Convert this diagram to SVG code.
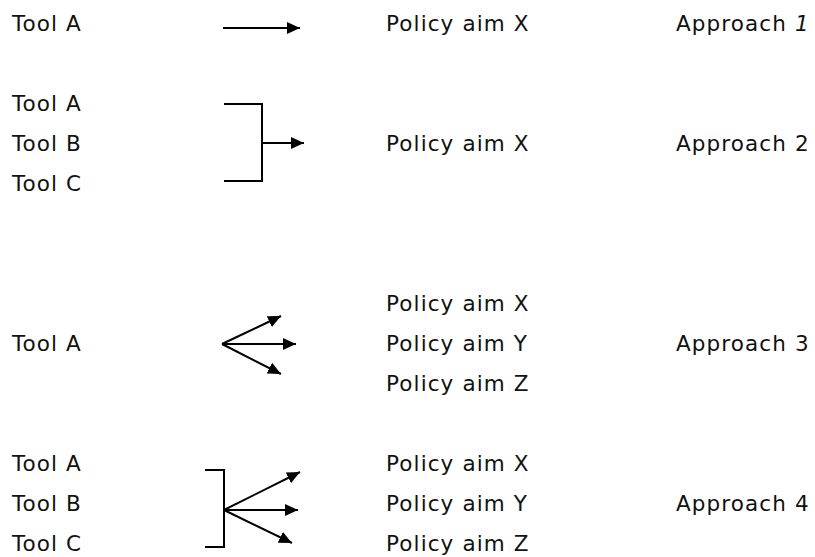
<svg xmlns="http://www.w3.org/2000/svg" width="815" height="557" viewBox="0 0 815 557">
  <defs>
    <marker id="head" viewBox="0 0 13 12" refX="13" refY="6" markerWidth="13" markerHeight="12" markerUnits="userSpaceOnUse" orient="auto">
      <path d="M0,0 L13,6 L0,12 Z" fill="#000"/>
    </marker>
    <style>
      text { font-family: "DejaVu Sans", Verdana, sans-serif; font-size: 21.5px; letter-spacing: 1.1px; fill: #111; }
      .ln { fill: none; stroke: #000; stroke-width: 2; }
      .ar { fill: none; stroke: #000; stroke-width: 2; marker-end: url(#head); }
    </style>
  </defs>
  <rect width="815" height="557" fill="#fff"/>

  <!-- Approach 1: one tool, one aim -->
  <g id="row1">
    <text x="12" y="31">Tool A</text>
    <text x="386" y="31">Policy aim X</text>
    <text x="676" y="31">Approach <tspan font-style="italic">1</tspan></text>
  </g>

  <!-- Approach 2: several tools, one aim -->
  <g id="row2">
    <text x="12" y="111">Tool A</text>
    <text x="12" y="151">Tool B</text>
    <text x="12" y="191">Tool C</text>
    <text x="386" y="151">Policy aim X</text>
    <text x="676" y="151">Approach 2</text>
  </g>

  <!-- Approach 3: one tool, several aims -->
  <g id="row3">
    <text x="12" y="351">Tool A</text>
    <text x="386" y="311">Policy aim X</text>
    <text x="386" y="351">Policy aim Y</text>
    <text x="386" y="391">Policy aim Z</text>
    <text x="676" y="351">Approach 3</text>
  </g>

  <!-- Approach 4: several tools, several aims -->
  <g id="row4">
    <text x="12" y="471">Tool A</text>
    <text x="12" y="511">Tool B</text>
    <text x="12" y="551">Tool C</text>
    <text x="386" y="471">Policy aim X</text>
    <text x="386" y="511">Policy aim Y</text>
    <text x="386" y="551">Policy aim Z</text>
    <text x="676" y="511">Approach 4</text>
  </g>

  <g id="connectors">
    <path class="ar" d="M223,28 H300"/>

    <path class="ln" d="M224,104 H262 V181 H224"/>
    <path class="ar" d="M262,143 H304"/>

    <path class="ar" d="M222,344 L281,316"/>
    <path class="ar" d="M222,344 H296"/>
    <path class="ar" d="M222,344 L281,374"/>

    <path class="ln" d="M205,470 H224 V547 H205"/>
    <path class="ar" d="M224,510 L300,472"/>
    <path class="ar" d="M224,510 H298"/>
    <path class="ar" d="M224,510 L292,543"/>
  </g>
</svg>
